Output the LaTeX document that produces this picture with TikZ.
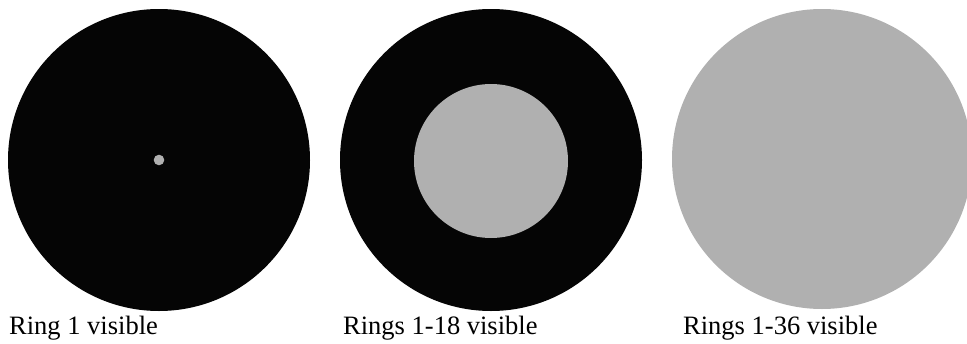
\documentclass[tikz,border=0pt]{standalone}
\usepackage{fontspec}
\setmainfont{Liberation Serif}
\definecolor{dark}{HTML}{050505}
\definecolor{lite}{HTML}{B0B0B0}
\begin{document}
\begin{tikzpicture}[x=1pt,y=-1pt,
  disc/.style={circle,inner sep=0pt,outer sep=0pt,minimum size=#1},
  caption/.style={anchor=base west,inner sep=0pt,font=\fontsize{26.5}{30}\selectfont}]
\useasboundingbox (0,0) rectangle (967,343);
\clip (0,0) rectangle (967,343);
\node[disc=302pt,fill=dark] (c1) at (159,160) {};
\node[disc=10.6pt,fill=lite] (d1) at (159,160) {};
\node[disc=302pt,fill=dark] (c2) at (491,160) {};
\node[disc=154pt,fill=lite] (d2) at (491,161) {};
\node[disc=300pt,fill=lite] (c3) at (822,159) {};
\node[caption] (t1) at (9,334) {Ring 1 visible};
\node[caption] (t2) at (343,334) {Rings 1-18 visible};
\node[caption] (t3) at (683,334) {Rings 1-36 visible};
\end{tikzpicture}
\end{document}
